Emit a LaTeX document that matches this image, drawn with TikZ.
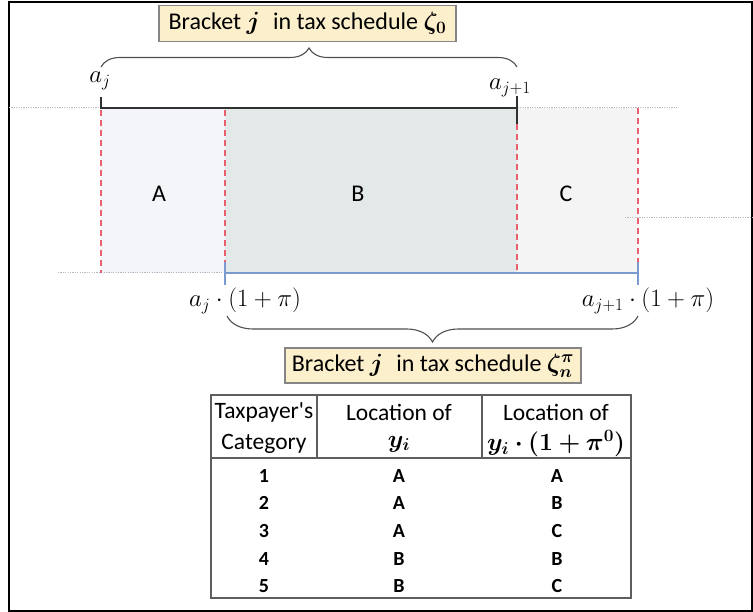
\documentclass[tikz,border=0pt]{standalone}
\usepackage{amsmath,bm}
\usepackage{fontspec}
\setmainfont{Carlito}[Ligatures=TeXOff]
\usetikzlibrary{decorations.pathreplacing}
\definecolor{boxfill}{HTML}{FCEFCB}
\definecolor{boxdraw}{HTML}{858585}
\definecolor{fillA}{HTML}{F3F5F8}
\definecolor{fillB}{HTML}{E3E9E9}
\definecolor{fillC}{HTML}{F4F4F4}
\definecolor{reddash}{HTML}{E8606E}
\definecolor{bluebar}{HTML}{7B9BD0}
\definecolor{dotgray}{HTML}{B4BAC2}
\definecolor{tablegray}{HTML}{5E5E5E}
\definecolor{darkline}{HTML}{303030}
\tikzset{
  labelbox/.style={draw=boxdraw, fill=boxfill, line width=1.2pt, inner sep=0pt,
    minimum height=36pt, font=\fontsize{24}{28}\selectfont},
  bigmath/.style={inner sep=0pt, font=\fontsize{24}{28}\selectfont},
  regionlabel/.style={inner sep=0pt, font=\fontsize{24}{28}\selectfont},
  headtext/.style={inner sep=0pt, font=\fontsize{23.5}{27}\selectfont},
  bodytext/.style={inner sep=0pt, font=\fontsize{20}{24}\selectfont\bfseries},
  bracestyle/.style={draw=darkline!85, line width=1.1pt, decorate},
  dotline/.style={draw=dotgray, line width=1pt, dash pattern=on 1.2pt off 1.2pt},
  reddashed/.style={draw=reddash, line width=1.6pt, dash pattern=on 6pt off 4pt},
  blueline/.style={draw=bluebar, line width=2pt},
  tableline/.style={draw=tablegray, line width=1.5pt},
}
\begin{document}
\begin{tikzpicture}[x=1pt,y=-1pt]
\useasboundingbox (0,0) rectangle (753,612);
% frame
\draw[line width=2pt] (9,2) rectangle (751.5,610.5);
% regions
\fill[fillA] (101,108) rectangle (225,273);
\fill[fillB] (225,108) rectangle (517,273);
\fill[fillC] (517,108) rectangle (638,273);
% dotted guide lines
\draw[dotline] (9,108) -- (678,108);
\draw[dotline] (58,273) -- (225,273);
\draw[dotline] (625,218) -- (753,218);
% red dashed separators
\draw[reddashed] (101,110) -- (101,273);
\draw[reddashed] (225,110) -- (225,262);
\draw[reddashed] (517,124) -- (517,273);
\draw[reddashed] (638,108) -- (638,262);
% black bracket of zeta_0
\coordinate (tl) at (101,97);
\coordinate (tlb) at (101,108);
\coordinate (trb) at (517,108);
\coordinate (tr) at (517,96);
\coordinate (trd) at (517,124);
\draw[darkline, line width=2pt] (tl) -- (tlb) -- (trb);
\draw[darkline, line width=1.2pt] (tr) -- (trd);
% blue bracket of zeta_n^pi
\coordinate (bl) at (225,273);
\coordinate (br) at (638,273);
\draw[blueline] (bl) -- (br);
\draw[blueline] (225,262) -- (225,285);
\draw[blueline] (638,262) -- (638,285);
% region labels
\node[regionlabel] (A) at (159,194) {A};
\node[regionlabel] (B) at (358,194) {B};
\node[regionlabel] (C) at (566,194) {C};
% top labels
\node[bigmath] (aj) at (100,81) {$a_j$};
\node[bigmath] (aj1) at (510,88) {$a_{j+1}$};
\node[labelbox, minimum width=297pt] (topbox) at (307.5,23.5)
  {Bracket $\bm{j}$\hspace{0.55em}in tax schedule $\bm{\zeta_0}$};
\coordinate (tbl) at (101,67);
\coordinate (tbr) at (517,67);
\draw[bracestyle, decoration={brace, amplitude=19pt}] (tbl) -- (tbr);
% bottom labels
\node[bigmath] (ajp) at (245,301) {$a_j\cdot(1+\pi)$};
\node[bigmath] (aj1p) at (648,301) {$a_{j+1}\cdot(1+\pi)$};
\coordinate (bbl) at (227,316);
\coordinate (bbr) at (638,316);
\draw[bracestyle, decoration={brace, amplitude=26pt}] (bbr) -- (bbl);
\node[labelbox, minimum width=296pt, minimum height=35pt] (botbox) at (433,365.5)
  {Bracket $\bm{j}$\hspace{0.55em}in tax schedule $\bm{\zeta_n^{\pi}}$};
% table
\draw[tableline] (211,395) rectangle (631,598);
\draw[tableline] (211,458) -- (631,458);
\draw[tableline] (317,395) -- (317,458);
\draw[tableline] (482,395) -- (482,458);
\node[headtext] (h1a) at (264,412) {Taxpayer's};
\node[headtext] (h1b) at (264,444) {Category};
\node[headtext] (h2a) at (399,412) {Location of};
\node[headtext] (h2b) at (399,444) {$\bm{y_i}$};
\node[headtext] (h3a) at (556,412) {Location of};
\node[headtext] (h3b) at (556,444) {$\bm{y_i\cdot(1+\pi^0)}$};
\foreach \r/\yy/\b/\c in {1/476/A/A, 2/503/A/B, 3/531/A/C, 4/559/B/B, 5/586/B/C}{
  \node[bodytext] (n\r) at (264,\yy) {\r};
  \node[bodytext] (l\r) at (399,\yy) {\b};
  \node[bodytext] (m\r) at (557,\yy) {\c};
}
\end{tikzpicture}
\end{document}
